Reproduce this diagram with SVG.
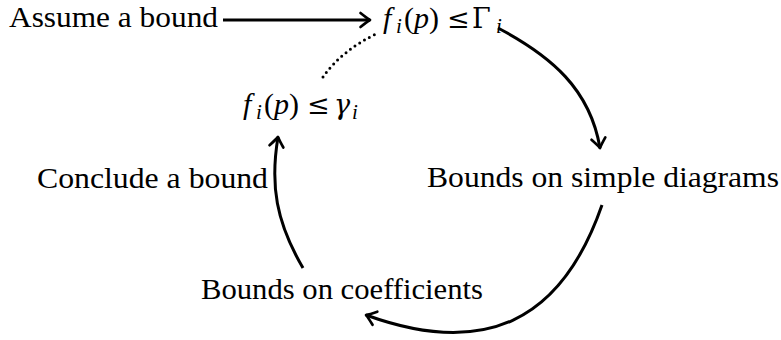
<svg xmlns="http://www.w3.org/2000/svg" width="781" height="340" viewBox="0 0 781 340">
<style>
  text { font-family: "Liberation Serif", "DejaVu Serif", serif; font-size: 30px; fill: #000; }
  .m { font-family: "Liberation Serif", serif; font-style: italic; }
  .sub { font-family: "Liberation Serif", serif; font-size: 21px; font-style: italic; }
  .sym { font-family: "DejaVu Serif", serif; font-size: 27px; }
  .gi { font-family: "DejaVu Serif", serif; font-size: 27px; font-style: italic; }
  .conn { fill: none; stroke: #000; stroke-width: 3; stroke-linecap: butt; }
  .dot { fill: none; stroke: #000; stroke-width: 3; stroke-linecap: round; stroke-dasharray: 0 5.6; }
</style>
<defs>
  <marker id="arr" markerUnits="userSpaceOnUse" orient="auto" overflow="visible" markerWidth="1" markerHeight="1" refX="0" refY="0">
    <path d="M-9.5,-7 Q-3,-1.8 0,0 Q-3,1.8 -9.5,7" fill="none" stroke="#000" stroke-width="2.7" stroke-linecap="round" stroke-linejoin="round"/>
  </marker>
</defs>
<rect x="0" y="0" width="781" height="340" fill="#fff"/>

<g id="connectors">
  <line class="conn" x1="223" y1="20" x2="370" y2="20" marker-end="url(#arr)"/>
  <path class="conn" d="M498,28 C551,56 590,89 600,148" marker-end="url(#arr)"/>
  <path class="conn" d="M602,205 C561,323 483.5,357.75 366,315" marker-end="url(#arr)"/>
  <path class="conn" d="M303,268 C276,222 270,185 278,137" marker-end="url(#arr)"/>
  <path class="dot" d="M323,77 Q342,50 378,33"/>
</g>

<g id="assume">
  <text x="9" y="27" textLength="209" lengthAdjust="spacingAndGlyphs">Assume a bound</text>
</g>

<g id="upper-bound">
  <text x="383" y="28" class="m">f</text>
  <text x="396" y="33" class="sub">i</text>
  <text x="404" y="28">(</text>
  <text x="414" y="28" class="m">p</text>
  <text x="429" y="28">)</text>
  <text x="447" y="28" class="sym">≤</text>
  <text x="472" y="28" class="sym">Γ</text>
  <text x="496" y="33" class="sub">i</text>
</g>

<g id="lower-bound">
  <text x="243" y="114" class="m">f</text>
  <text x="256" y="119" class="sub">i</text>
  <text x="264" y="114">(</text>
  <text x="274" y="114" class="m">p</text>
  <text x="289" y="114">)</text>
  <text x="307" y="114" class="sym">≤</text>
  <text x="334" y="114" class="gi">γ</text>
  <text x="352" y="119" class="sub">i</text>
</g>

<g id="simple">
  <text x="427" y="187" textLength="352" lengthAdjust="spacingAndGlyphs">Bounds on simple diagrams</text>
</g>

<g id="conclude">
  <text x="37" y="188" textLength="231" lengthAdjust="spacingAndGlyphs">Conclude a bound</text>
</g>

<g id="coefficients">
  <text x="201" y="299" textLength="282" lengthAdjust="spacingAndGlyphs">Bounds on coefficients</text>
</g>
</svg>
